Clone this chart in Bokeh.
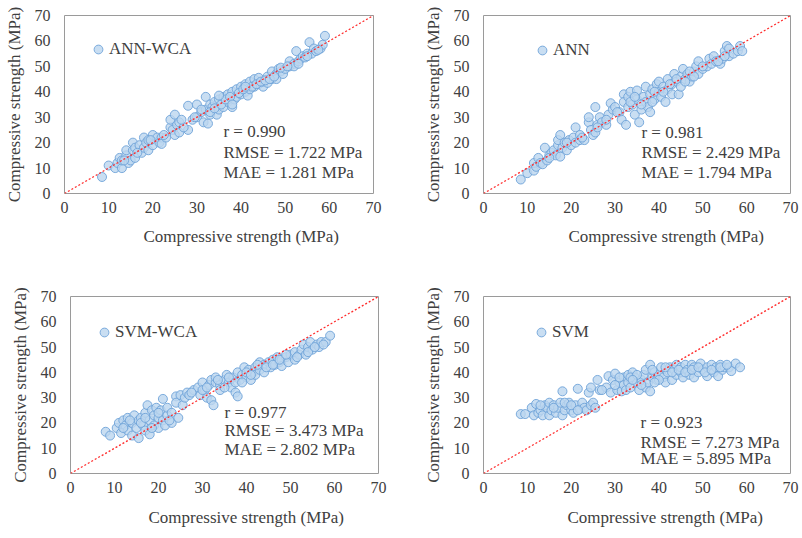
from bokeh.plotting import figure
from bokeh.layouts import column, row
from bokeh.models import Legend, LegendItem, Label, Slope, Range1d, Title
from bokeh.embed import file_html
from bokeh.resources import INLINE

# ---------------- data (MPa) ----------------
ann_wca_x = [8.5, 10, 11.5, 12, 12.5, 13, 13, 14, 14, 14.5, 15, 15.5, 15.5, 16, 16,
             17, 17.5, 18, 18, 18.5, 19, 19, 20, 20, 21, 21.5, 22, 22,
             23, 24, 24, 24.5, 25, 25, 25.5, 26, 26,
             28, 28, 29, 30, 30, 31, 31.5, 32, 32, 32.5, 33, 33, 33.5,
             34, 34.5, 35, 35, 36, 36, 37, 37, 38, 38, 38.5, 39, 39, 40, 40,
             41, 41, 41.5, 42, 42, 43, 43, 44, 44, 45, 45, 46, 46,
             47, 47, 48, 48, 48.5, 49, 49.5, 50, 51, 51, 52, 52,
             52.5, 53, 53.5, 54, 55, 55.5, 56, 56.5, 57, 58, 58.5, 59,
             27, 29.5, 31, 33, 34, 35.5, 36.5, 37.5, 39.5, 40.5, 42.5, 43.5, 44.5, 45.5,
             46.5, 47.5, 49, 50.5, 53, 54.5, 55, 57.5, 19.5, 16.5, 13.5, 22.5, 26.5, 35, 38, 41]
ann_wca_y = [6.5, 11, 10, 12, 14, 10, 13, 15, 17, 12, 13, 20, 17, 14, 18,
             19, 16, 22, 18, 20, 17, 21, 23, 19, 22, 20, 22, 19.5,
             22, 26, 29, 25, 31, 23, 27, 28, 24,
             25, 34.5, 29, 35, 30, 32, 28, 38, 33, 27.5, 35, 31, 34,
             36, 31, 37, 33, 38, 34, 39, 36, 34, 40, 37, 38, 41, 42, 39,
             40, 43, 38.5, 44, 41, 42, 45, 43, 45.5, 42, 44, 46, 43.5,
             45, 48, 47, 45, 49, 48, 47, 49, 50, 52, 51, 50,
             56, 52, 53, 54, 55, 59.5, 55, 57, 56, 57, 58.5, 62,
             26, 30, 33, 32, 33.5, 35, 37, 38, 39.5, 41, 42, 43, 44, 44.5,
             45, 46, 49.5, 50, 51, 53.5, 54, 56.5, 21, 16, 13, 23, 29, 38.5, 35, 42]

ann_x = [8.5, 10, 11.5, 11.5, 12, 12.5, 13, 13.5, 14, 14.5, 15, 15.5, 16, 16.5, 17, 17,
         17.5, 17.5, 18, 18.5, 19, 19.5, 20, 20.5, 21, 21, 22, 22, 23, 24, 24, 24.5,
         25, 25.5, 25.5, 26, 26.5, 27, 28, 28.5, 29, 29.5, 30, 31, 31.5, 32, 32, 32.5,
         33, 33, 33.5, 34, 34.5, 35, 35, 35.5, 36, 36.5, 37, 37, 37.5, 38, 38, 38.5,
         39, 39.5, 40, 40, 40.5, 41, 41.5, 42, 42, 43, 43, 43.5, 44, 44.5, 45, 45,
         45.5, 46, 46.5, 47, 47.5, 48, 48.5, 49, 49, 50, 51, 51.5, 52, 52.5, 53, 54,
         54.5, 55, 55.5, 56, 56, 57, 58, 58.5, 59,
         28, 30.5, 33.5, 34.5, 36, 38.5, 39, 41, 42.5, 44, 46, 47, 48, 50, 53.5, 55,
         19, 15, 22.5, 26]
ann_y = [5.5, 8, 9, 12, 10.5, 14, 12, 11.5, 18, 13, 15, 16, 17, 15, 19, 21,
         14.5, 23, 18, 20, 17, 21, 19, 22, 26, 20, 23, 21, 21, 28, 30, 25,
         23, 24, 34, 27, 30, 28, 27, 31, 35.5, 33, 34, 32, 29, 39, 36, 27,
         38, 34, 40, 35, 31, 40.5, 37, 28, 33, 38, 42, 36, 34, 32, 39, 41,
         37, 43, 40, 44, 38, 42, 36, 41, 45, 43, 39, 47, 44, 39, 46, 42,
         49, 45, 47, 44, 46, 48, 50, 52, 47, 49, 50, 53, 51, 54, 52, 51,
         53, 56, 58, 54, 57, 55, 56, 58, 56,
         29, 32, 36, 38, 35, 36, 40, 40, 43, 45, 44, 48, 46, 50, 52, 54,
         20, 14, 22, 26]

svm_wca_x = [8, 9, 10.5, 11, 11.5, 12, 12.5, 13, 13, 14, 14, 14.5, 15, 15.5, 15.5, 16,
             16.5, 17, 17, 17.5, 18, 18, 18.5, 19, 19, 19.5, 20, 20, 20.5, 21, 21, 21.5,
             22, 22, 23, 23, 24, 24, 24.5, 25, 25.5, 26, 26.5, 27, 28, 29, 29.5, 30,
             30.5, 31, 31.5, 32, 32, 32.5, 33, 33, 34, 34, 35, 35.5, 36, 36.5, 37, 37.5,
             38, 38, 38.5, 39, 39.5, 40, 40.5, 41, 41.5, 42, 42, 43, 43, 44, 44, 45,
             45.5, 46, 46.5, 47, 47.5, 48, 48, 49, 49.5, 50, 51, 51, 52, 52.5, 53, 53.5,
             54, 54.5, 55, 56, 56.5, 57, 58, 59,
             12, 13.5, 16, 17, 18.5, 20, 22.5, 27.5, 30, 31, 33.5, 35, 36, 37.5, 39, 40,
             41, 42.5, 44.5, 46, 47.5, 49, 51.5, 54, 55.5, 57.5]
svm_wca_y = [16.5, 15, 18, 20, 16, 21, 19, 17, 22, 20, 15, 23, 18, 21, 14, 22,
             19, 24, 17, 27, 21, 15.5, 25, 19, 23, 26, 18, 22, 25, 21, 29.5, 19,
             23, 26, 20, 24, 30.5, 28, 22, 31, 27, 30, 32, 31, 33, 34, 31, 36,
             33, 30, 35, 29, 37, 27, 36, 38, 35, 33, 37, 39, 36, 34, 38, 32,
             30.5, 40, 37, 39, 42, 38, 41, 37, 40, 42, 39, 44, 41, 43, 40, 44,
             42, 45, 43, 46, 44, 45, 42.5, 46, 44, 47, 45, 48, 47, 49, 51, 47,
             50, 52, 49, 51, 50, 52, 52, 54.5,
             18, 21, 20, 22, 18, 24, 21, 32, 33, 34, 37, 34, 38, 36, 36, 40,
             39, 43, 42, 43, 45, 47, 46, 48, 50, 51]

svm_x = [8.5, 9.5, 11, 11.5, 12, 12.5, 13, 13.5, 14, 14.5, 15, 15, 15.5, 16, 16.5, 17,
         17.5, 18, 18, 18.5, 19, 19.5, 20, 20.5, 21, 21.5, 22, 22.5, 23, 23.5, 24, 24.5,
         24.5, 25, 25.5, 26, 26.5, 28, 28.5, 29, 29.5, 30, 30.5, 31, 31.5, 32, 32, 32.5,
         33, 33, 33.5, 34, 34.5, 35, 35.5, 36, 36.5, 37, 37, 37.5, 38, 38, 38.5, 39,
         39.5, 40, 40.5, 41, 41.5, 42, 42.5, 43, 43.5, 44, 44, 45, 45, 45.5, 46, 46.5,
         47, 47.5, 48, 48, 49, 49.5, 50, 51, 51, 52, 52.5, 53, 53.5, 54, 54.5, 55,
         56, 56.5, 57.5, 58.5,
         13, 16, 18.5, 20, 21.5, 30, 31, 33.5, 35, 36, 38.5, 40, 41.5, 43, 44.5, 46,
         47.5, 49, 50.5, 52, 54, 55.5, 27, 34, 39]
svm_y = [23.5, 23.5, 26, 23, 27.5, 24, 25, 23, 27, 26, 28, 23, 25, 27, 24, 26,
         28, 32.5, 23, 25, 27, 28, 25, 24, 27, 33.5, 25.5, 28, 26, 25, 32, 34,
         27, 28, 26, 37, 33, 34, 38.5, 32, 37, 39.5, 33, 36, 32.5, 38, 35, 33,
         39, 36, 34, 40, 38, 36, 33, 37, 39, 34, 41, 36, 43, 32.5, 38, 40,
         37, 39, 42, 38, 36, 40, 42, 37, 41, 43, 39, 40, 42, 38, 43, 41,
         39, 43, 42, 38, 40, 43.5, 41, 42, 38.5, 43, 40, 42, 38.5, 43, 41, 42,
         42, 40.5, 43.5, 42,
         27, 26, 28, 27, 25, 35, 38, 38, 39, 35, 41, 37, 42, 40, 41, 40,
         41, 42, 40, 41, 42, 43, 33, 37, 36]

axis_ticks = [0, 10, 20, 30, 40, 50, 60, 70]
axis_title = "Compressive strength (MPa)"

panels = [
    dict(name="ANN-WCA", x=ann_wca_x, y=ann_wca_y,
         stats=["r = 0.990", "RMSE = 1.722 MPa", "MAE = 1.281 MPa"],
         ann_x=36.0, ann_y=[24.5, 16.0, 8.2],
         w=400, h=280, bl=64, br=27, bt=13, bb=87, leg=(23, 133), xoff=79, xst=19),
    dict(name="ANN", x=ann_x, y=ann_y,
         stats=["r = 0.981", "RMSE = 2.429 MPa", "MAE = 1.794 MPa"],
         ann_x=36.0, ann_y=[24.0, 16.1, 8.3],
         w=400, h=280, bl=83, br=10, bt=15, bb=87, leg=(48, 132), xoff=85, xst=19),
    dict(name="SVM-WCA", x=svm_wca_x, y=svm_wca_y,
         stats=["r = 0.977", "RMSE = 3.473 MPa", "MAE = 2.802 MPa"],
         ann_x=35.0, ann_y=[24.2, 16.9, 9.6],
         w=400, h=257, bl=70, br=22, bt=16, bb=59, leg=(23, 130), xoff=78, xst=21),
    dict(name="SVM", x=svm_x, y=svm_y,
         stats=["r = 0.923", "RMSE = 7.273 MPa", "MAE = 5.895 MPa"],
         ann_x=35.8, ann_y=[20.1, 12.2, 5.9],
         w=400, h=257, bl=83, br=10, bt=16, bb=63, leg=(47, 130), xoff=84, xst=20),
]

SERIF = "Liberation Serif, Times New Roman, serif"
TXT = "#404040"


def make_panel(c):
    p = figure(width=c["w"], height=c["h"], output_backend="svg", toolbar_location=None,
               x_range=Range1d(0, 70), y_range=Range1d(0, 70),
               min_border_left=c["bl"], min_border_right=c["br"],
               min_border_top=c["bt"], min_border_bottom=c["bb"])
    p.background_fill_color = "white"
    p.border_fill_color = "white"
    p.outline_line_color = "#9a9a9a"
    p.outline_line_width = 1
    p.grid.visible = False
    for ax in (p.xaxis, p.yaxis):
        ax.ticker = axis_ticks
        ax.axis_line_color = None
        ax.major_tick_line_color = None
        ax.minor_tick_line_color = None
        ax.major_tick_out = 0
        ax.major_tick_in = 0
        ax.major_label_text_font = SERIF
        ax.major_label_text_font_size = "16px"
        ax.major_label_text_color = TXT
    p.xaxis.major_label_standoff = 8
    p.yaxis.major_label_standoff = 14
    p.yaxis.axis_label = axis_title
    p.yaxis.axis_label_text_font = SERIF
    p.yaxis.axis_label_text_font_size = "17px"
    p.yaxis.axis_label_text_font_style = "normal"
    p.yaxis.axis_label_text_color = TXT
    p.yaxis.axis_label_standoff = 8

    # x-axis title, placed slightly right of centre as in the reference
    p.add_layout(Title(text=axis_title, align="left", offset=c["xoff"],
                       text_font=SERIF, text_font_size="17px", text_font_style="normal",
                       text_color=TXT, standoff=c["xst"]), "below")

    p.add_layout(Slope(gradient=1, y_intercept=0, line_color="#ff2a2a",
                       line_width=1.3, line_dash="2 2"))

    r = p.scatter(c["x"], c["y"], size=9, marker="circle",
                  fill_color="#bcd6ef", fill_alpha=0.8,
                  line_color="#6fa3d8", line_width=1, line_alpha=0.9)

    leg = Legend(items=[LegendItem(label=c["name"], renderers=[r])],
                 location=c["leg"], background_fill_alpha=0, border_line_color=None,
                 padding=5, margin=0, glyph_width=22, glyph_height=22, label_height=22,
                 label_standoff=-3, label_text_font=SERIF, label_text_font_size="17px",
                 label_text_color=TXT)
    p.add_layout(leg)

    for txt, yy in zip(c["stats"], c["ann_y"]):
        p.add_layout(Label(x=c["ann_x"], y=yy, text=txt, text_font=SERIF,
                           text_font_size="17px", text_color=TXT,
                           text_baseline="middle", text_align="left"))
    return p


figs = [make_panel(c) for c in panels]
layout = column(row(figs[0], figs[1]), row(figs[2], figs[3]))

with open("out.html", "w") as f:
    f.write(file_html(layout, INLINE))
